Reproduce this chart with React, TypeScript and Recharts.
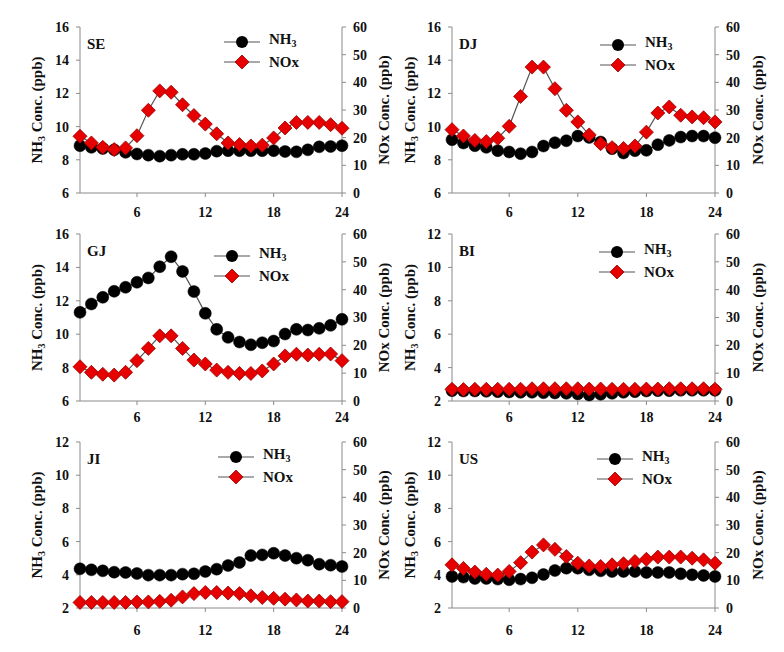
import { Legend, Line, LineChart, XAxis, YAxis } from 'recharts';

// hour of day
const hours = [1, 2, 3, 4, 5, 6, 7, 8, 9, 10, 11, 12, 13, 14, 15, 16, 17, 18, 19, 20, 21, 22, 23, 24];
const hourTicks = [6, 12, 18, 24];
const noxTicks = [0, 10, 20, 30, 40, 50, 60];
const highNh3Ticks = [6, 8, 10, 12, 14, 16];
const lowNh3Ticks = [2, 4, 6, 8, 10, 12];

const seNh3 = [8.85, 8.75, 8.68, 8.6, 8.45, 8.35, 8.28, 8.22, 8.28, 8.33, 8.33, 8.38, 8.52, 8.55, 8.55, 8.55, 8.55, 8.55, 8.5, 8.48, 8.6, 8.78, 8.8, 8.85];
const seNox = [20.5, 18.1, 16.5, 15.7, 16.3, 20.7, 29.9, 36.9, 36.4, 31.9, 28.0, 24.9, 21.4, 18.1, 17.5, 17.0, 17.3, 19.9, 23.5, 25.5, 25.5, 25.5, 24.7, 23.4];

const djNh3 = [9.21, 9.01, 8.85, 8.75, 8.55, 8.47, 8.37, 8.47, 8.83, 9.03, 9.15, 9.43, 9.35, 9.07, 8.67, 8.41, 8.55, 8.57, 8.91, 9.17, 9.37, 9.43, 9.43, 9.33];
const djNox = [22.9, 20.6, 19.0, 18.6, 19.8, 24.1, 34.9, 45.5, 45.5, 37.7, 29.9, 25.7, 21.0, 17.8, 16.4, 16.1, 17.0, 22.0, 28.9, 31.1, 28.1, 27.5, 27.2, 25.7];

const gjNh3 = [11.31, 11.81, 12.21, 12.57, 12.81, 13.11, 13.37, 14.04, 14.64, 13.76, 12.55, 11.25, 10.29, 9.81, 9.53, 9.37, 9.49, 9.59, 10.01, 10.29, 10.25, 10.35, 10.53, 10.89];
const gjNox = [12.3, 10.3, 9.6, 9.3, 10.3, 14.5, 18.9, 23.4, 23.4, 18.9, 14.7, 13.3, 11.1, 10.3, 9.9, 9.9, 10.8, 13.3, 16.2, 16.8, 16.5, 16.8, 16.9, 14.5];

const biNh3 = [2.62, 2.6, 2.6, 2.58, 2.56, 2.54, 2.52, 2.52, 2.5, 2.48, 2.46, 2.42, 2.36, 2.4, 2.46, 2.52, 2.56, 2.6, 2.62, 2.62, 2.64, 2.64, 2.64, 2.64];
const biNox = [4.2, 4.1, 4.2, 4.2, 4.2, 4.2, 4.2, 4.4, 4.4, 4.4, 4.4, 4.4, 4.3, 4.3, 4.2, 4.2, 4.2, 4.3, 4.3, 4.4, 4.4, 4.4, 4.4, 4.2];

const jiNh3 = [4.36, 4.3, 4.24, 4.16, 4.14, 4.08, 3.98, 3.98, 3.98, 4.04, 4.06, 4.2, 4.34, 4.56, 4.74, 5.16, 5.2, 5.3, 5.16, 5.0, 4.88, 4.64, 4.58, 4.5];
const jiNox = [2.0, 2.0, 2.0, 2.0, 2.0, 2.2, 2.2, 2.4, 2.8, 4.0, 5.2, 5.6, 5.6, 5.4, 5.2, 4.4, 3.8, 3.5, 3.2, 2.9, 2.5, 2.5, 2.3, 2.3];

const usNh3 = [3.9, 3.86, 3.78, 3.78, 3.74, 3.7, 3.74, 3.82, 4.02, 4.26, 4.4, 4.4, 4.3, 4.24, 4.2, 4.2, 4.2, 4.14, 4.14, 4.14, 4.06, 4.0, 3.96, 3.9];
const usNox = [15.6, 14.3, 13.0, 12.2, 11.9, 13.2, 16.4, 20.2, 22.8, 21.2, 18.6, 16.2, 15.2, 15.0, 15.6, 16.0, 16.8, 17.6, 18.4, 18.4, 18.4, 18.0, 17.4, 16.2];

const FONT = '"Liberation Serif", "Times New Roman", serif';
const AXIS = '#8a8a8a';
const RED = '#e60000';

const columns = [
	{ left: 0, leftW: 80, rightW: 50, leftTitleX: 37, rightTitleX: 42 },
	{ left: 392, leftW: 60, rightW: 69, leftTitleX: 18, rightTitleX: 43 },
];
// charts overlap a little so the tick labels are not clipped
const rows = [
	{ top: 0, height: 222, mTop: 27, mBottom: 0, xH: 29, tickMargin: 10 },
	{ top: 215, height: 216, mTop: 19, mBottom: 0, xH: 30, tickMargin: 7 },
	{ top: 425, height: 227, mTop: 17, mBottom: 14, xH: 30, tickMargin: 13 },
];

const panels = [
	{ name: 'SE', nh3: seNh3, nox: seNox, ticks: highNh3Ticks, col: 0, row: 0, lx: 162, ly: 12 },
	{ name: 'DJ', nh3: djNh3, nox: djNox, ticks: highNh3Ticks, col: 1, row: 0, lx: 166, ly: 15 },
	{ name: 'GJ', nh3: gjNh3, nox: gjNox, ticks: highNh3Ticks, col: 0, row: 1, lx: 152, ly: 19 },
	{ name: 'BI', nh3: biNh3, nox: biNox, ticks: lowNh3Ticks, col: 1, row: 1, lx: 165, ly: 15 },
	{ name: 'JI', nh3: jiNh3, nox: jiNox, ticks: lowNh3Ticks, col: 0, row: 2, lx: 156, ly: 12 },
	{ name: 'US', nh3: usNh3, nox: usNox, ticks: lowNh3Ticks, col: 1, row: 2, lx: 163, ly: 14 },
];

const tickStyle = { fontFamily: FONT, fontWeight: 'bold', fontSize: 14, fill: '#111' };

function Diamond(props: any) {
	const { cx, cy } = props;
	if (cx == null || cy == null) return null;
	const s = 7;
	return (
		<polygon
			points={`${cx},${cy - s} ${cx + s},${cy} ${cx},${cy + s} ${cx - s},${cy}`}
			fill={RED}
			stroke='#900'
			strokeWidth={0.8}
		/>
	);
}

function AxisTitle(props: any) {
	const { viewBox, dist, gas } = props;
	if (!viewBox) return null;
	const x = viewBox.x + dist;
	const y = viewBox.y + viewBox.height / 2;
	return (
		<text
			x={x}
			y={y}
			transform={`rotate(-90 ${x} ${y})`}
			textAnchor='middle'
			dominantBaseline='central'
			fontFamily={FONT}
			fontWeight='bold'
			fontSize={15}
			fill='#111'
		>
			{gas === 'nh3' ? (
				<>
					NH<tspan dy={4} fontSize={10}>3</tspan>
					<tspan dy={-4}> Conc. (ppb)</tspan>
				</>
			) : (
				'NOx Conc. (ppb)'
			)}
		</text>
	);
}

function LegendMark({ kind }: { kind: 'nh3' | 'nox' }) {
	return (
		<svg width={36} height={16} style={{ display: 'block' }}>
			<line x1={0} y1={8} x2={36} y2={8} stroke='#555' strokeWidth={1.2} />
			{kind === 'nh3' ? (
				<circle cx={18} cy={8} r={6} fill='#000' />
			) : (
				<polygon points='18,1 25,8 18,15 11,8' fill={RED} stroke='#900' strokeWidth={0.8} />
			)}
		</svg>
	);
}

function Panel({ p }: { p: (typeof panels)[number] }) {
	const col = columns[p.col];
	const row = rows[p.row];
	const data = hours.map((h, i) => ({ hour: h, nh3: p.nh3[i], nox: p.nox[i] }));
	const width = 392;
	const plotW = width - col.leftW - col.rightW;
	const plotH = row.height - row.mTop - row.mBottom - row.xH;
	const textStyle = { fontFamily: FONT, fontWeight: 'bold', fontSize: 15, color: '#111', lineHeight: '16px' };

	const renderLegend = () => (
		<div style={{ position: 'relative', width: plotW, height: plotH }}>
			<div style={{ ...textStyle, position: 'absolute', left: 7, top: 9 }}>{p.name}</div>
			{(['nh3', 'nox'] as const).map((k, i) => (
				<div
					key={k}
					style={{ position: 'absolute', left: p.lx - 18, top: p.ly - 8 + i * 23, display: 'flex', alignItems: 'center' }}
				>
					<LegendMark kind={k} />
					<span style={{ ...textStyle, marginLeft: 9 }}>
						{k === 'nh3' ? (
							<>
								NH<sub style={{ fontSize: 10, verticalAlign: -3 }}>3</sub>
							</>
						) : (
							'NOx'
						)}
					</span>
				</div>
			))}
		</div>
	);

	return (
		<div style={{ position: 'absolute', left: col.left, top: row.top }}>
			<LineChart
				width={width}
				height={row.height}
				data={data}
				margin={{ top: row.mTop, right: 0, bottom: row.mBottom, left: 0 }}
			>
				<XAxis
					dataKey='hour'
					type='number'
					domain={[1, 24]}
					ticks={hourTicks}
					height={row.xH}
					tickSize={4}
					tickMargin={row.tickMargin}
					stroke={AXIS}
					tick={tickStyle}
				/>
				<XAxis
					xAxisId='top'
					orientation='top'
					type='number'
					domain={[1, 24]}
					height={0}
					tick={false}
					tickLine={false}
					stroke={AXIS}
				/>
				<YAxis
					yAxisId='l'
					domain={[p.ticks[0], p.ticks[p.ticks.length - 1]]}
					ticks={p.ticks}
					width={col.leftW}
					tickSize={4}
					tickMargin={7}
					stroke={AXIS}
					tick={tickStyle}
					label={<AxisTitle dist={col.leftTitleX} gas='nh3' />}
				/>
				<YAxis
					yAxisId='r'
					orientation='right'
					domain={[0, 60]}
					ticks={noxTicks}
					width={col.rightW}
					tickSize={4}
					tickMargin={7}
					stroke={AXIS}
					tick={{ ...tickStyle, textAnchor: 'start' }}
					label={<AxisTitle dist={col.rightTitleX} gas='nox' />}
				/>
				<Legend
					layout='horizontal'
					align='center'
					verticalAlign='middle'
					content={renderLegend}
					wrapperStyle={{ top: row.mTop, left: col.leftW, width: plotW, height: plotH, margin: 0 }}
				/>
				<Line
					yAxisId='l'
					dataKey='nh3'
					stroke='#555'
					strokeWidth={1.2}
					dot={{ r: 6, fill: '#000', stroke: '#000', strokeWidth: 0.5 }}
					activeDot={false}
					isAnimationActive={false}
				/>
				<Line
					yAxisId='r'
					dataKey='nox'
					stroke='#555'
					strokeWidth={1.2}
					dot={<Diamond />}
					activeDot={false}
					isAnimationActive={false}
				/>
			</LineChart>
		</div>
	);
}

export default function App() {
	return (
		<div style={{ position: 'absolute', left: 0, top: 0, width: 784, height: 652, background: '#fff' }}>
			{panels.map(p => (
				<Panel key={p.name} p={p} />
			))}
		</div>
	);
}
